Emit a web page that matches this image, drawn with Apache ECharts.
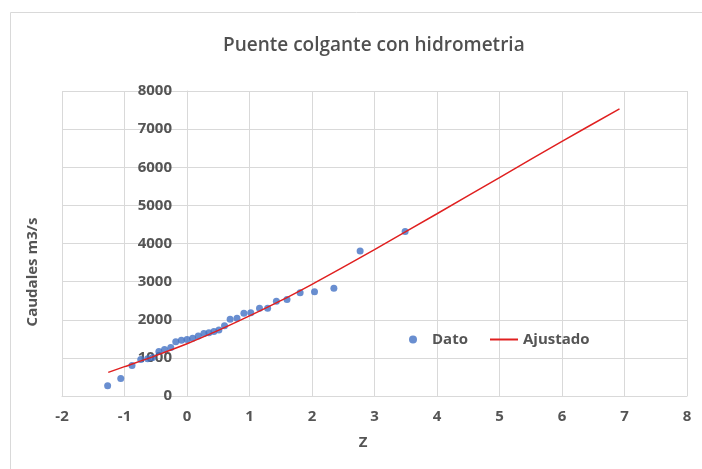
<!DOCTYPE html>
<html>
<head>
<meta charset="utf-8">
<script src="https://cdn.jsdelivr.net/npm/echarts@6/dist/echarts.min.js"></script>
<style>
  html, body { margin: 0; padding: 0; background: #fff; }
  #chart { width: 702px; height: 469px; }
</style>
</head>
<body>
<div id="chart"></div>
<script>
// observed values (Z, caudal m3/s)
const datoZ = [-1.27, -1.06, -0.88, -0.74, -0.63, -0.55, -0.45, -0.36, -0.26, -0.18, -0.09, 0.0, 0.09, 0.18, 0.27, 0.35, 0.43, 0.51, 0.60, 0.69, 0.80, 0.91, 1.02, 1.16, 1.29, 1.43, 1.60, 1.81, 2.04, 2.35, 2.77, 3.49]
const datoQ = [270, 460, 800, 960, 980, 1010, 1165, 1220, 1275, 1425, 1465, 1485, 1515, 1575, 1640, 1660, 1690, 1730, 1845, 2013, 2040, 2170, 2186, 2302, 2302, 2486, 2528, 2711, 2737, 2827, 3806, 4312]

// fitted curve
const ajusZ = [-1.26, -1, -0.5, 0, 0.5, 1, 1.5, 2, 2.5, 3, 4, 5, 6, 6.92]
const ajusQ = [620, 770, 1060, 1370, 1720, 2100, 2500, 2930, 3380, 3840, 4780, 5730, 6680, 7530]

const xTicks = { min: -2, max: 8, interval: 1 }
const yTicks = { min: 0, max: 8000, interval: 1000 }

const textColor = '#555555'
const gridColor = '#d9d9d9'
const font = 'Open Sans'
const legendText = { fontFamily: font, fontSize: 15, fontWeight: 'bold', color: textColor }

const chart = echarts.init(document.getElementById('chart'))

chart.setOption({
  animation: false,
  title: {
    text: 'Puente colgante con hidrometria',
    left: 218,
    top: 31,
    textStyle: { fontFamily: font, fontSize: 19, fontWeight: 600, color: '#505050' }
  },
  graphic: [
    {
      type: 'rect',
      shape: { x: 10.5, y: 12.5, width: 720, height: 480 },
      style: { fill: 'none', stroke: gridColor, lineWidth: 1 },
      silent: true
    },
    {
      type: 'text',
      x: 33, y: 272, rotation: Math.PI / 2,
      style: {
        text: 'Caudales m3/s', fontFamily: font, fontSize: 15, fontWeight: 'bold',
        fill: textColor, align: 'center', verticalAlign: 'middle'
      }
    },
    {
      type: 'text',
      x: 363, y: 443,
      style: {
        text: 'Z', fontFamily: font, fontSize: 15, fontWeight: 'bold',
        fill: textColor, align: 'center', verticalAlign: 'middle'
      }
    }
  ],
  legend: [
    {
      left: 404, top: 327,
      itemWidth: 28, itemHeight: 8,
      textStyle: legendText,
      data: [{ name: 'Dato', icon: 'circle' }]
    },
    {
      left: 485, top: 327,
      itemWidth: 28, itemHeight: 2,
      textStyle: legendText,
      data: [{ name: 'Ajustado', icon: 'rect' }]
    }
  ],
  grid: { left: 62, right: 15, top: 91, bottom: 73 },
  xAxis: {
    type: 'value',
    min: xTicks.min, max: xTicks.max, interval: xTicks.interval,
    axisLine: { show: true, onZero: false, lineStyle: { color: gridColor } },
    axisTick: { show: false },
    axisLabel: { margin: 13, fontFamily: font, fontSize: 15, fontWeight: 'bold', color: textColor },
    splitLine: { show: true, lineStyle: { color: gridColor } }
  },
  yAxis: {
    type: 'value',
    min: yTicks.min, max: yTicks.max, interval: yTicks.interval,
    // sit the axis on z = 0 like the original
    offset: -125,
    axisLine: { show: true, lineStyle: { color: gridColor } },
    axisTick: { show: false },
    axisLabel: {
      margin: 15, fontFamily: font, fontSize: 15, fontWeight: 'bold', color: textColor,
      formatter: v => String(v)
    },
    splitLine: { show: true, lineStyle: { color: gridColor } }
  },
  series: [
    {
      name: 'Dato',
      type: 'scatter',
      symbolSize: 7,
      itemStyle: { color: '#4472c4' },
      data: datoZ.map((z, i) => [z, datoQ[i]])
    },
    {
      name: 'Ajustado',
      type: 'line',
      symbol: 'none',
      smooth: 0.3,
      lineStyle: { color: '#e02020', width: 1.5 },
      itemStyle: { color: '#e02020' },
      data: ajusZ.map((z, i) => [z, ajusQ[i]])
    }
  ]
})
</script>
</body>
</html>
